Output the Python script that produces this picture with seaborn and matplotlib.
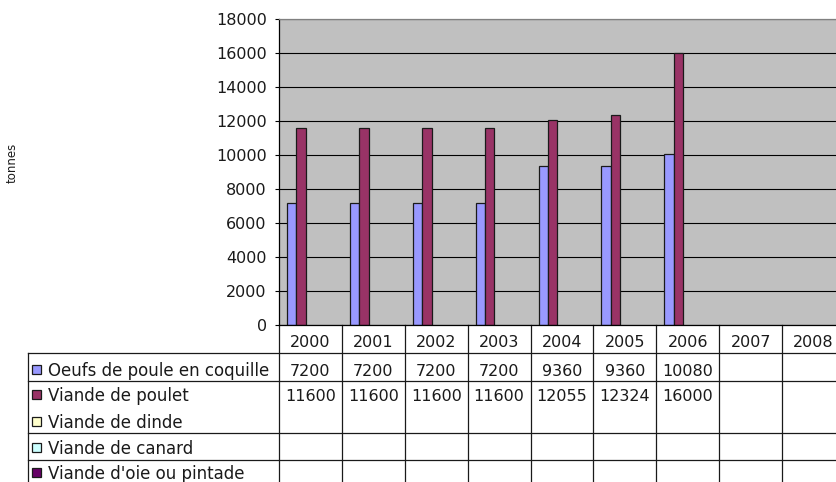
import matplotlib
matplotlib.use("Agg")
import matplotlib.pyplot as plt
import matplotlib.transforms as mtransforms
from matplotlib.lines import Line2D
from matplotlib.patches import Rectangle
import seaborn as sns
import pandas as pd

# ---- data ----
years = ["2000", "2001", "2002", "2003", "2004", "2005", "2006", "2007", "2008"]
series = ["Oeufs de poule en coquille", "Viande de poulet", "Viande de dinde",
          "Viande de canard", "Viande d'oie ou pintade"]
oeufs = [7200, 7200, 7200, 7200, 9360, 9360, 10080, None, None]
poulet = [11600, 11600, 11600, 11600, 12055, 12324, 16000, None, None]
dinde = [None, None, None, None, None, None, None, None, None]
canard = [None, None, None, None, None, None, None, None, None]
oie = [None, None, None, None, None, None, None, None, None]
colors = ["#9999FF", "#993366", "#FFFFCC", "#CCFFFF", "#660066"]
yticks = [0, 2000, 4000, 6000, 8000, 10000, 12000, 14000, 16000, 18000]

values = [oeufs, poulet, dinde, canard, oie]
rows = []
for s, vals in zip(series, values):
    for y, v in zip(years, vals):
        if v is not None:
            rows.append({"annee": y, "serie": s, "valeur": v})
df = pd.DataFrame(rows)

W, H = 837, 482
fig = plt.figure(figsize=(W / 100, H / 100), dpi=100)
fig.patch.set_facecolor("white")

# axes geometry in pixels
L, T, B, R = 279, 19, 325, 845
ax = fig.add_axes([L / W, 1 - B / H, (R - L) / W, (B - T) / H])
ax.set_facecolor("#C0C0C0")

txtc = "#1a1a1a"
fs = 11.5
fs_lab = 12

sns.barplot(data=df, x="annee", y="valeur", hue="serie", order=years,
            hue_order=series, palette=dict(zip(series, colors)),
            width=0.746, edgecolor="#1a1a1a", linewidth=0.9,
            legend=False, ax=ax, errorbar=None, saturation=1)

ax.set_xlim(-0.5, len(years) - 0.5)
ax.set_ylim(0, 18000)
ax.set_yticks(yticks)
ax.set_yticklabels([str(v) for v in yticks], fontsize=fs, color=txtc)
ax.tick_params(axis="y", direction="out", length=3, width=0.8, pad=5.8, color="black")
ax.tick_params(axis="x", length=0, labelbottom=False)
ax.set_xlabel("")
ax.set_ylabel("")
ax.yaxis.grid(True, color="black", linewidth=0.8)
ax.set_axisbelow(True)
for side in ["left", "bottom"]:
    ax.spines[side].set_color("black")
    ax.spines[side].set_linewidth(0.9)
ax.spines["top"].set_color("#808080")
ax.spines["top"].set_linewidth(0.9)
ax.spines["right"].set_visible(False)

fig.text(12 / W, 1 - 163 / H, "tonnes", rotation=90, ha="center", va="center",
         fontsize=8.5, color=txtc)

# ---- data table below the plot ----
def fy(py):
    return 1 - py / H

bt = mtransforms.blended_transform_factory(ax.transData, fig.transFigure)
lc = "#1a1a1a"
lw = 0.9
bottom_px = 490
n = len(years)
# vertical lines at category boundaries
for i in range(n + 1):
    ax.add_line(Line2D([i - 0.5, i - 0.5], [fy(B), fy(bottom_px)], transform=bt,
                       color=lc, lw=lw, clip_on=False))
# left border of label column
fig.add_artist(Line2D([28 / W, 28 / W], [fy(353), fy(bottom_px)], color=lc, lw=lw))
# horizontal lines
for py in [353, 381, 433, 460]:
    fig.add_artist(Line2D([28 / W, 1.0], [fy(py), fy(py)], color=lc, lw=lw))

# header years
for i, y in enumerate(years):
    ax.text(i, fy(347), y, transform=bt, ha="center", va="baseline",
            fontsize=fs, color=txtc, clip_on=False)

baselines = [376, 401, 428, 454, 479]
for r, (s, vals, c) in enumerate(zip(series, values, colors)):
    bl = baselines[r]
    fig.add_artist(Rectangle((32 / W, fy(bl - 2)), 9 / W, 9 / H,
                             facecolor=c, edgecolor="#1a1a1a", lw=0.9,
                             transform=fig.transFigure))
    fig.text(48 / W, fy(bl), s, ha="left", va="baseline", fontsize=fs_lab, color=txtc)
    for i, v in enumerate(vals):
        if v is not None:
            ax.text(i, fy(bl), str(v), transform=bt, ha="center", va="baseline",
                    fontsize=fs, color=txtc, clip_on=False)

fig.savefig("out.png", dpi=100)
